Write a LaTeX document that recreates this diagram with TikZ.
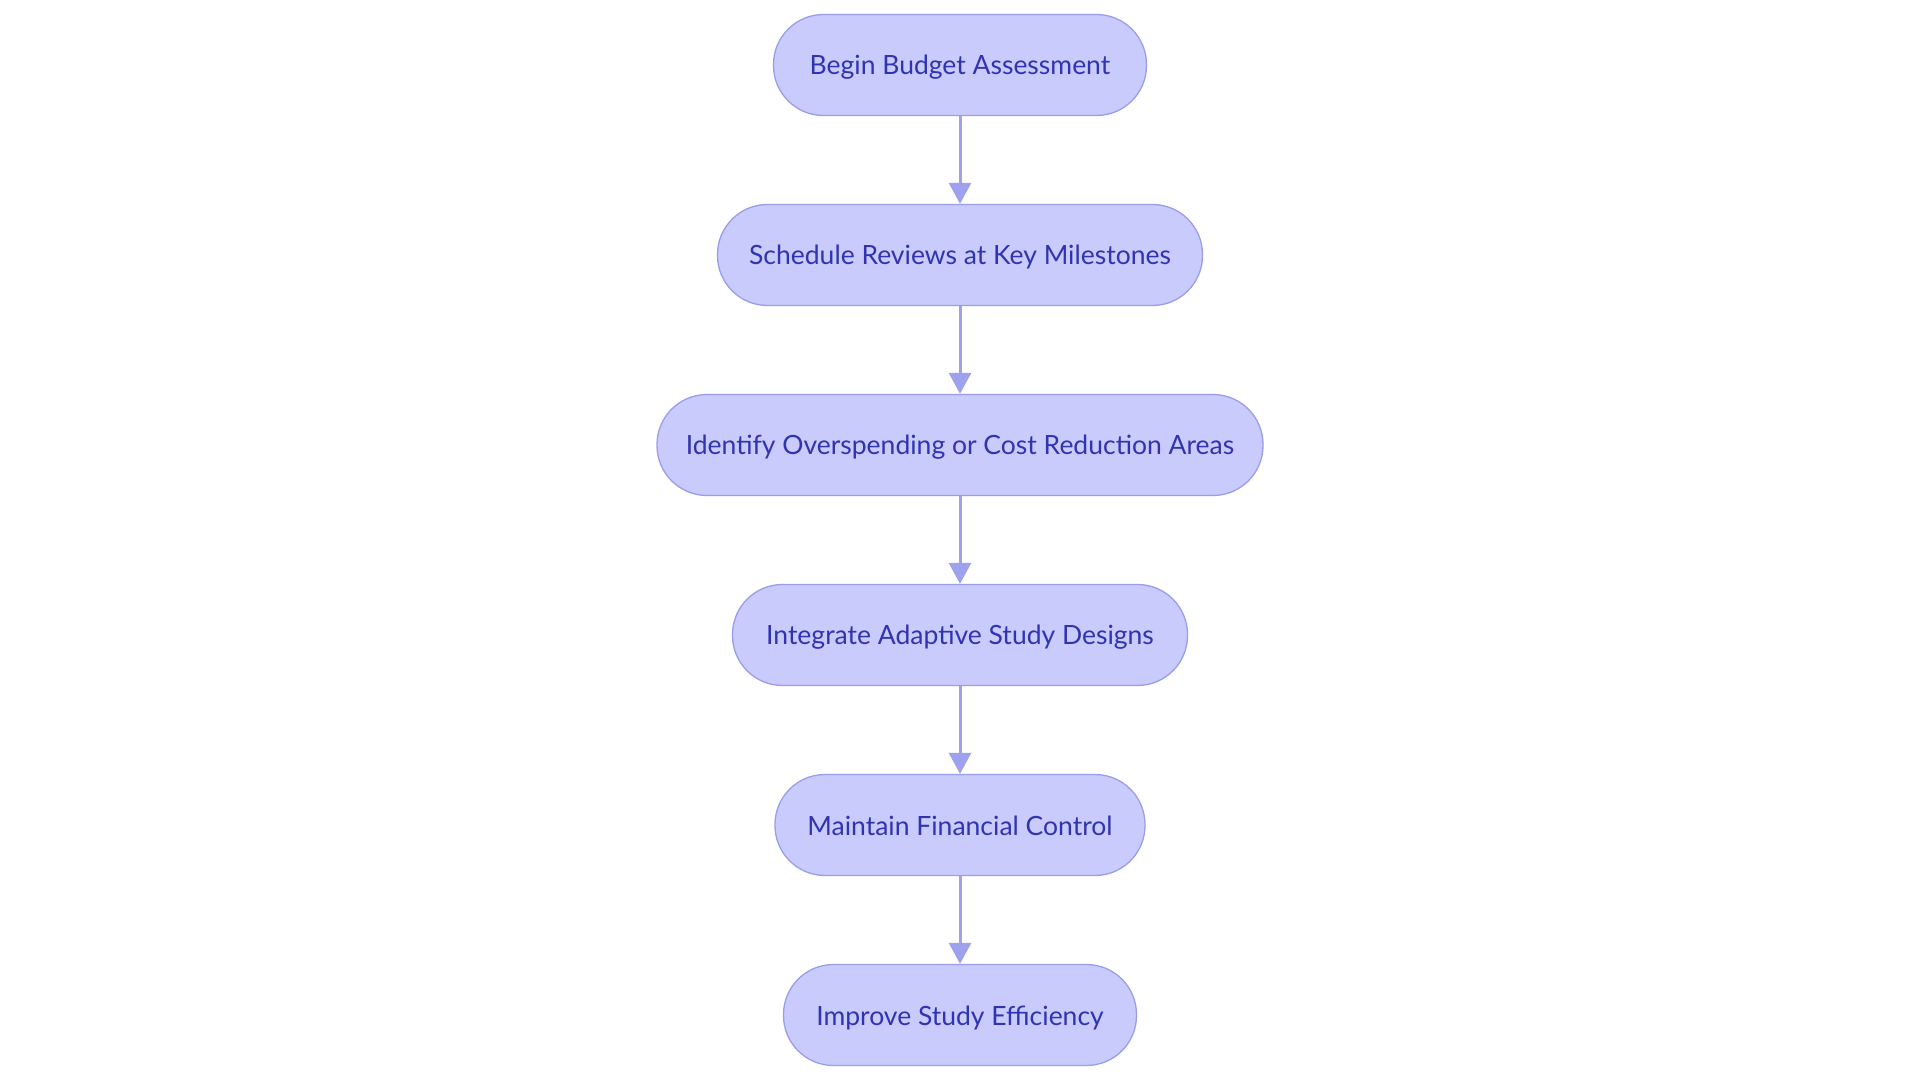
\documentclass[tikz,border=0pt]{standalone}
\usepackage{fontspec}
\setmainfont{Lato}
\usetikzlibrary{arrows.meta}
\definecolor{boxfill}{HTML}{C9CBFD}
\definecolor{boxline}{HTML}{9A9DEA}
\definecolor{boxtext}{HTML}{3034B0}
\definecolor{arrowcol}{HTML}{9EA1EE}
\tikzset{
  stadium/.style={draw=boxline, line width=1.3pt, fill=boxfill, text=boxtext,
    rounded corners=50pt, minimum height=101pt, inner sep=0pt,
    text height=23pt, text depth=3pt,
    font=\fontsize{26.5}{32}\selectfont},
  flow/.style={draw=arrowcol, line width=3pt,
    -{Triangle[length=21pt,width=22pt,fill=arrowcol]}, shorten >=0pt}
}
\begin{document}
\begin{tikzpicture}[x=1pt,y=1pt]
\useasboundingbox[fill=white] (0,0) rectangle (1920,1080);
\node[stadium, minimum width=373pt] (n1) at (960,1015) {Begin Budget Assessment};
\node[stadium, minimum width=485pt] (n2) at (960,825) {Schedule Reviews at Key Milestones};
\node[stadium, minimum width=606pt] (n3) at (960,635) {Identify Overspending or Cost Reduction Areas};
\node[stadium, minimum width=455pt] (n4) at (960,445) {Integrate Adaptive Study Designs};
\node[stadium, minimum width=370pt] (n5) at (960,255) {Maintain Financial Control};
\node[stadium, minimum width=353pt] (n6) at (960,65) {Improve Study Efficiency};
\draw[flow] (n1) -- (n2);
\draw[flow] (n2) -- (n3);
\draw[flow] (n3) -- (n4);
\draw[flow] (n4) -- (n5);
\draw[flow] (n5) -- (n6);
\end{tikzpicture}
\end{document}
